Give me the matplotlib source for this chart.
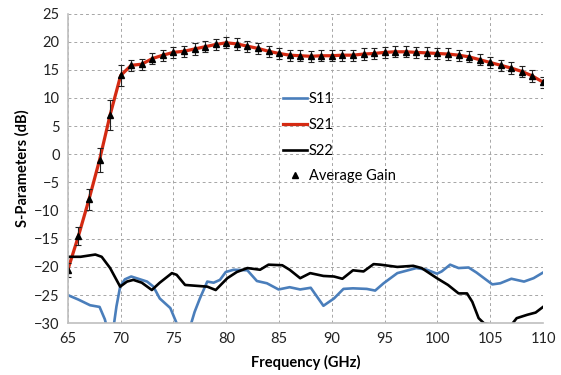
import numpy as np
import matplotlib.pyplot as plt

# S21 / average gain, 1 GHz steps
freq = np.arange(65, 111)
gain = [-20.5, -14.5, -8.0, -1.0, 7.0, 14.0, 15.8, 16.0, 17.0, 17.6,
        18.1, 18.3, 18.7, 19.1, 19.5, 19.8, 19.6, 19.2, 18.8, 18.3,
        17.9, 17.6, 17.5, 17.4, 17.5, 17.5, 17.6, 17.6, 17.8, 17.9,
        18.1, 18.2, 18.2, 18.1, 18.0, 17.9, 17.8, 17.6, 17.3, 16.8,
        16.3, 15.8, 15.3, 14.7, 13.9, 12.8]
gain_err = [1.2, 1.6, 1.9, 2.2, 2.6, 1.8] + [1.0] * 40

# S11
s11_f = [65.0, 66.0, 67.1, 68.0, 68.5, 68.8, 69.0, 69.3, 69.6, 69.95, 70.4, 71.0,
         72.5, 73.1, 73.7, 74.7, 75.3, 75.8, 76.3, 76.6, 77.0, 77.5, 78.2, 78.8,
         79.4, 79.95, 80.7, 82.0, 82.9, 83.85, 84.95, 86.0, 87.0, 88.0, 88.6,
         89.2, 90.2, 91.1, 92.0, 93.3, 94.1, 94.9, 96.2, 98.0, 99.0, 99.95,
         100.4, 101.2, 102.0, 102.95, 103.7, 105.2, 105.95, 107.0, 108.2, 109.1, 110.0]
s11_v = [-25.0, -25.8, -26.8, -27.1, -29.3, -31.5, -33.0, -31.0, -27.0, -23.5, -22.2, -21.7,
         -22.6, -23.5, -25.6, -27.3, -30.0, -32.5, -33.0, -30.5, -28.0, -25.6, -22.6, -22.8,
         -22.3, -20.9, -20.5, -20.6, -22.5, -22.9, -24.0, -23.6, -24.0, -23.7, -25.3,
         -26.9, -25.6, -23.9, -23.8, -23.9, -24.2, -22.9, -21.1, -20.2, -20.5, -21.2,
         -20.8, -19.6, -20.2, -20.1, -21.0, -23.1, -22.9, -22.1, -22.6, -22.0, -21.0]

# S22
s22_f = [65.0, 66.2, 67.6, 68.2, 69.0, 69.95, 70.6, 71.2, 72.0, 72.95, 73.7, 74.85,
         75.3, 76.1, 77.5, 78.2, 79.0, 80.1, 81.0, 82.0, 83.2, 84.0, 85.3, 86.0,
         87.0, 87.95, 89.2, 90.2, 91.0, 92.0, 93.0, 93.95, 94.6, 96.2, 97.7, 98.5,
         99.95, 101.0, 102.0, 102.8, 103.3, 103.9, 104.4, 105.0, 106.0, 107.0,
         107.5, 108.5, 109.3, 110.0]
s22_v = [-18.2, -18.2, -17.8, -18.2, -20.2, -23.5, -22.6, -22.3, -22.8, -24.1, -22.8, -21.1,
         -21.4, -23.2, -23.4, -23.5, -24.1, -22.0, -20.9, -20.2, -20.5, -19.6, -19.7, -20.5,
         -22.0, -21.1, -21.6, -21.7, -22.1, -20.6, -20.8, -19.5, -19.6, -20.0, -19.8, -20.2,
         -22.0, -23.2, -24.7, -24.7, -26.2, -29.1, -30.0, -30.2, -31.0, -30.3,
         -29.1, -28.5, -28.1, -27.1]

plt.rcParams['font.family'] = ['Lato', 'DejaVu Sans']

fig, ax = plt.subplots(figsize=(5.61, 3.75), dpi=100)
fig.subplots_adjust(left=0.121, right=0.968, top=0.964, bottom=0.138)

ax.plot(s11_f, s11_v, color='#4A7EBB', lw=1.9, label='S11', solid_joinstyle='round')
ax.plot(freq, gain, color='#D42A12', lw=2.3, label='S21', solid_joinstyle='round')
ax.plot(s22_f, s22_v, color='black', lw=1.9, label='S22', solid_joinstyle='round')
ax.errorbar(freq, gain, yerr=gain_err, fmt='none', ecolor='#222222',
            elinewidth=0.8, capsize=2.2, capthick=0.8)
# triangles (also used for the legend entry, without error bar)
ax.plot(freq, gain, '^', color='black', ms=4, label='Average Gain')

ax.set_xlim(65, 110)
ax.set_ylim(-30, 25)
ax.set_xticks(np.arange(65, 111, 5))
ax.set_yticks(np.arange(-30, 26, 5))
ax.grid(True, ls=(0, (3, 3)), color='#A6A6A6', lw=0.7)
ax.set_axisbelow(True)
ax.tick_params(length=0, labelsize=10.5, pad=6, colors='#222222')
for s in ['top', 'right']:
    ax.spines[s].set_visible(False)
for s in ['left', 'bottom']:
    ax.spines[s].set_color('#BFBFBF')
    ax.spines[s].set_linewidth(1.2)

ax.set_xlabel('Frequency (GHz)', fontsize=10.5, fontweight='bold', labelpad=7)
ax.set_ylabel('S-Parameters (dB)', fontsize=10.5, fontweight='bold', labelpad=3)

ax.legend(loc='upper left', bbox_to_anchor=(0.453, 0.745), frameon=False,
          fontsize=10.5, handlelength=1.65, handletextpad=0.1, labelspacing=0.8,
          borderaxespad=0, borderpad=0)

fig.savefig('out.png', dpi=100)
